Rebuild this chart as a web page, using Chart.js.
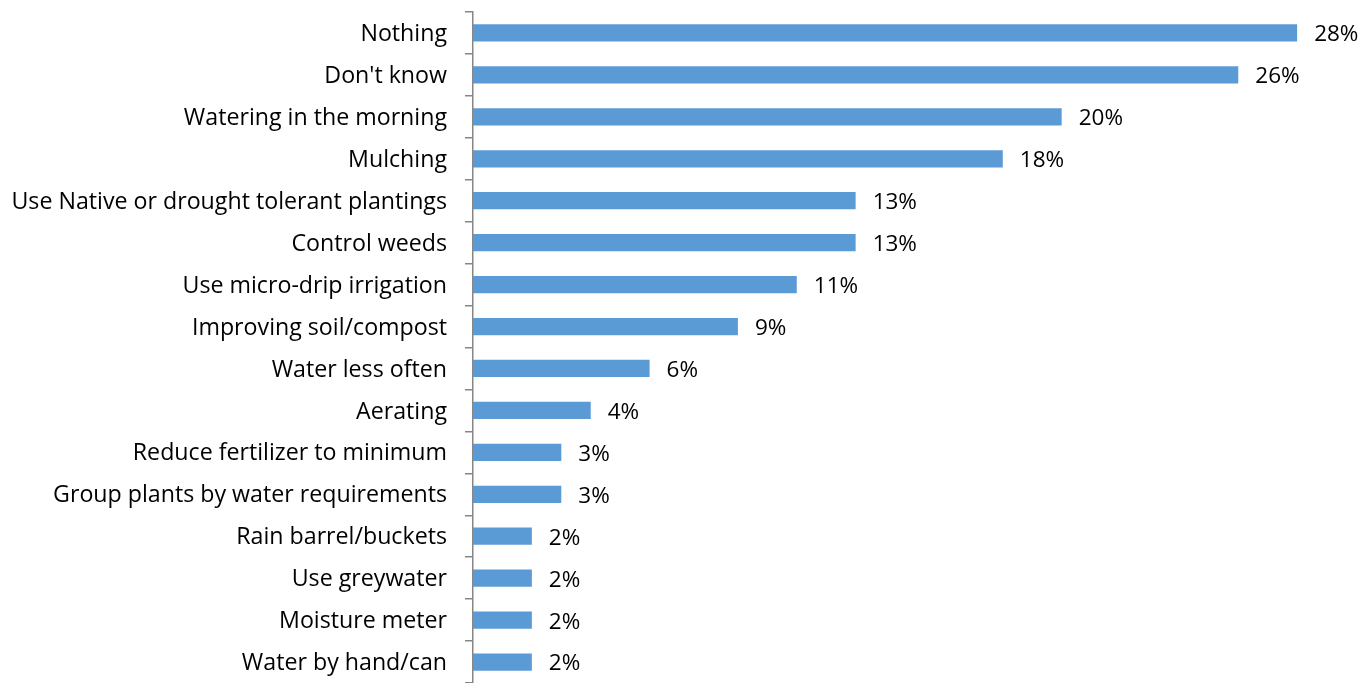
<!DOCTYPE html>
<html>
<head>
<meta charset="utf-8">
<script src="https://cdn.jsdelivr.net/npm/chart.js@4/dist/chart.umd.min.js"></script>
<style>
  html, body { margin: 0; padding: 0; background: #fff; }
  #wrap { width: 1371px; height: 683px; position: relative; }
</style>
</head>
<body>
<div id="wrap"><canvas id="chart"></canvas></div>
<script>
const LABELS = [
  'Nothing', "Don't know", 'Watering in the morning', 'Mulching',
  'Use Native or drought tolerant plantings', 'Control weeds',
  'Use micro-drip irrigation', 'Improving soil/compost', 'Water less often',
  'Aerating', 'Reduce fertilizer to minimum', 'Group plants by water requirements',
  'Rain barrel/buckets', 'Use greywater', 'Moisture meter', 'Water by hand/can'
];
const VALUES = [28, 26, 20, 18, 13, 13, 11, 9, 6, 4, 3, 3, 2, 2, 2, 2];
const X_MAX = 30;

const FONT = '"Open Sans", sans-serif';
const AXIS_LEFT = 473;

// value labels to the right of each bar
const valueLabels = {
  id: 'valueLabels',
  afterDatasetsDraw(chart) {
    const ctx = chart.ctx;
    const meta = chart.getDatasetMeta(0);
    ctx.save();
    ctx.font = '22.5px ' + FONT;
    ctx.fillStyle = '#000';
    ctx.textAlign = 'left';
    ctx.textBaseline = 'middle';
    meta.data.forEach((bar, i) => {
      ctx.fillText(VALUES[i] + '%', bar.x + 17, bar.y + 2);
    });
    ctx.restore();
  }
};

new Chart(document.getElementById('chart'), {
  type: 'bar',
  data: {
    labels: LABELS,
    datasets: [{
      data: VALUES,
      backgroundColor: '#5B9BD5',
      barPercentage: 1,
      categoryPercentage: 0.41
    }]
  },
  options: {
    indexAxis: 'y',
    responsive: true,
    maintainAspectRatio: false,
    animation: false,
    layout: { padding: { top: 12, right: 15, bottom: 0, left: 0 } },
    plugins: { legend: { display: false }, tooltip: { enabled: false } },
    scales: {
      x: { display: false, min: 0, max: X_MAX },
      y: {
        afterFit: s => {
          s.width = AXIS_LEFT;
          s.paddingTop = 0;
          s.paddingBottom = 0;
        },
        border: { display: true, color: '#868686', width: 1.5 },
        grid: { drawOnChartArea: false, tickLength: 8, color: '#868686', lineWidth: 1.5 },
        ticks: { color: '#000', padding: 18, labelOffset: 1.5, font: { family: FONT, size: 23.2 } }
      }
    }
  },
  plugins: [valueLabels]
});
</script>
</body>
</html>
